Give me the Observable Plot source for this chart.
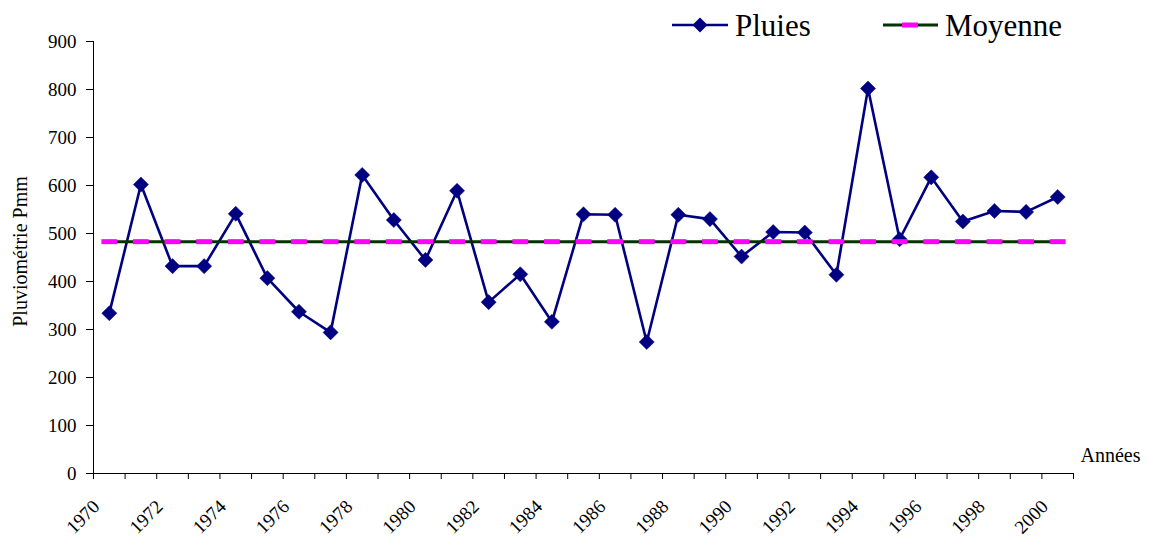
<!DOCTYPE html>
<html>
<head>
<meta charset="utf-8">
<script src="https://cdn.jsdelivr.net/npm/d3@7"></script>
<script src="https://cdn.jsdelivr.net/npm/@observablehq/plot@0.6"></script>
<style>
  body { margin: 0; background: #fff; }
  #wrap { position: relative; width: 1149px; height: 538px; }
  #wrap, #wrap svg, #wrap svg text {
    font-family: "Liberation Serif", "Times New Roman", Tinos, "DejaVu Serif", serif !important;
  }
  #legend { position: absolute; left: 0; top: 0; }
</style>
</head>
<body>
<div id="wrap"></div>
<script>
// Pluviométrie annuelle (mm), 1970–2000
const annees = [1970, 1971, 1972, 1973, 1974, 1975, 1976, 1977, 1978, 1979,
                1980, 1981, 1982, 1983, 1984, 1985, 1986, 1987, 1988, 1989,
                1990, 1991, 1992, 1993, 1994, 1995, 1996, 1997, 1998, 1999, 2000];
const pluies = [334, 602, 432, 432, 541, 407, 337, 294, 622, 528,
                445, 589, 357, 415, 316, 540, 539, 274, 539, 530,
                452, 503, 502, 414, 802, 488, 617, 525, 547, 545, 576];
const moyenne = 483;

// Axes
const yTicks = [0, 100, 200, 300, 400, 500, 600, 700, 800, 900];
const xTicks = [1970, 1971, 1972, 1973, 1974, 1975, 1976, 1977, 1978, 1979,
                1980, 1981, 1982, 1983, 1984, 1985, 1986, 1987, 1988, 1989,
                1990, 1991, 1992, 1993, 1994, 1995, 1996, 1997, 1998, 1999, 2000, 2001];
const xLabels = [1970, 1972, 1974, 1976, 1978, 1980, 1982, 1984, 1986, 1988,
                 1990, 1992, 1994, 1996, 1998, 2000];

const font = "'Liberation Serif', 'Times New Roman', Tinos, 'DejaVu Serif', serif";
const navy = "#000080";
const vert = "#003300";
const magenta = "#ff00ff";

const data = annees.map((a, i) => ({annee: a, pluie: pluies[i], moyenne}));
// each year occupies one unit band; values sit at the band centre
const xc = d => d.annee + 0.5;

const chart = Plot.plot({
  width: 1149,
  height: 538,
  marginLeft: 93,
  marginRight: 76,
  marginTop: 41,
  marginBottom: 65,
  style: {fontFamily: font, fontSize: "19px", color: "#000", background: "#fff", overflow: "visible"},
  x: {domain: [1970, 2001]},
  y: {domain: [0, 900]},
  marks: [
    Plot.axisY({ticks: yTicks, tickSize: 7, tickPadding: 10, label: null, stroke: "#000"}),
    // tick marks at every year boundary
    Plot.axisX({ticks: xTicks, tickFormat: () => "", tickSize: 6, label: null, stroke: "#000"}),
    // slanted year labels, every other year
    Plot.axisX({
      ticks: xLabels,
      tickFormat: d => String(d),
      tickSize: 0,
      tickRotate: -45,
      tickPadding: 30,
      dx: 3,
      fontSize: 19,
      label: null
    }),
    Plot.ruleX([1970], {stroke: "#000", strokeWidth: 1}),
    Plot.ruleY([0], {stroke: "#000", strokeWidth: 1}),
    Plot.text(["Pluviométrie Pmm"], {frameAnchor: "left", textAnchor: "middle", rotate: -90, dx: -73, dy: -6, fontSize: 20, fill: "#000"}),
    Plot.text(["Années"], {frameAnchor: "bottom-right", textAnchor: "start", lineAnchor: "bottom", dx: 7, dy: -12, fontSize: 20, fill: "#000"}),
    // Pluies
    Plot.line(data, {x: xc, y: "pluie", stroke: navy, strokeWidth: 2.6}),
    Plot.dot(data, {x: xc, y: "pluie", symbol: "diamond2", r: 6.8, fill: navy, stroke: navy, strokeWidth: 0.5}),
    // Moyenne
    Plot.line(data, {x: xc, y: "moyenne", stroke: vert, strokeWidth: 3}),
    Plot.link(data, {x1: d => d.annee + 0.25, x2: d => d.annee + 0.75, y1: "moyenne", y2: "moyenne", stroke: magenta, strokeWidth: 5})
  ]
});

const wrap = document.getElementById("wrap");
wrap.appendChild(chart);

// Légende
const legend = d3.create("svg")
  .attr("id", "legend")
  .attr("width", 1149)
  .attr("height", 48);
const g1 = legend.append("g");
g1.append("line").attr("x1", 672).attr("x2", 728).attr("y1", 25).attr("y2", 25)
  .attr("stroke", navy).attr("stroke-width", 2.6);
g1.append("path").attr("d", d3.symbol(d3.symbolDiamond2, 144)()).attr("transform", "translate(700,25)")
  .attr("fill", navy);
g1.append("text").attr("x", 735).attr("y", 36).attr("font-size", 31).text("Pluies");
const g2 = legend.append("g");
g2.append("line").attr("x1", 883).attr("x2", 938).attr("y1", 25).attr("y2", 25)
  .attr("stroke", vert).attr("stroke-width", 3);
g2.append("line").attr("x1", 902).attr("x2", 918).attr("y1", 25).attr("y2", 25)
  .attr("stroke", magenta).attr("stroke-width", 5);
g2.append("text").attr("x", 945).attr("y", 36).attr("font-size", 31).text("Moyenne");
wrap.appendChild(legend.node());
</script>
</body>
</html>
